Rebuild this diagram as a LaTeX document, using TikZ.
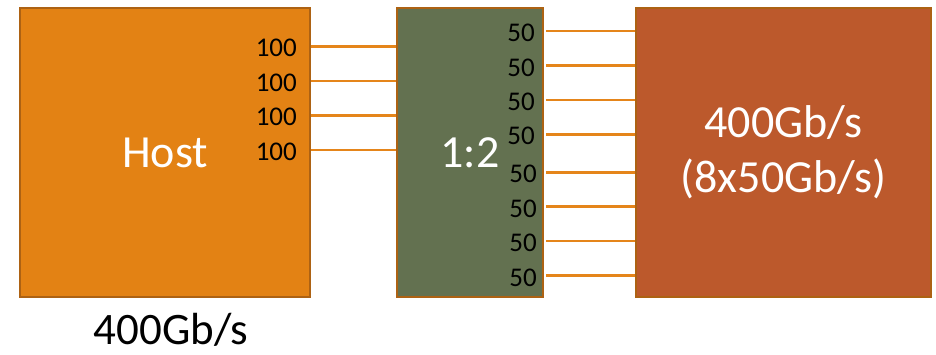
\documentclass[tikz,border=0pt]{standalone}
\usepackage{fontspec}
\setmainfont{Carlito}
\definecolor{hostfill}{HTML}{E38214}
\definecolor{muxfill}{HTML}{637150}
\definecolor{devfill}{HTML}{BC592C}
\definecolor{edgecol}{HTML}{AD6213}
\definecolor{wirecol}{HTML}{E5851A}
\begin{document}
\begin{tikzpicture}[x=1pt,y=-1pt,
  box/.style={draw=edgecol,line width=2.6pt,rectangle,inner sep=0pt,text=white,
    font=\fontsize{46}{55}\selectfont,align=center},
  lane/.style={font=\fontsize{27}{30}\selectfont,anchor=east,inner sep=0pt},
  wire/.style={draw=wirecol,line width=2.6pt}]
\useasboundingbox (0,0) rectangle (936,355);
\node[box,fill=hostfill,minimum width=290pt,minimum height=289pt] (host) at (165,152.5) {Host};
\node[box,fill=muxfill,minimum width=146pt,minimum height=289pt] (mux) at (470,152.5) {1:2};
\node[box,fill=devfill,minimum width=295pt,minimum height=289pt] (dev) at (783.5,152.5) {400Gb/s\\(8x50Gb/s)};
\node[font=\fontsize{45}{55}\selectfont,anchor=base,inner sep=0pt] (rate) at (171,344) {400Gb/s};
\foreach \i/\y in {1/46.7,2/81,3/115.7,4/150}{
  \coordinate (h\i) at (300,\y);
  \node[lane] (hl\i) at (297,\y+1.5) {100};
  \draw[wire] (host.east |- h\i) -- (mux.west |- h\i);
}
\foreach \i/\y/\x in {1/31/535,2/65.7/535,3/100/535,4/134.3/535,5/172.3/537,6/206.7/537,7/241/537,8/275.7/537}{
  \coordinate (m\i) at (600,\y);
  \node[lane] (ml\i) at (\x,\y+2) {50};
  \draw[wire] ([xshift=2pt]mux.east |- m\i) -- (dev.west |- m\i);
}
\end{tikzpicture}
\end{document}
